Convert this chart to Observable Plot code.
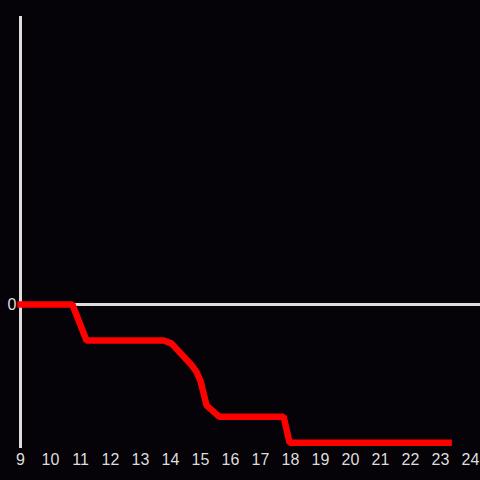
<!DOCTYPE html>
<html>
<head>
<meta charset="utf-8">
<script src="https://cdn.jsdelivr.net/npm/d3@7"></script>
<script src="https://cdn.jsdelivr.net/npm/@observablehq/plot@0.6"></script>
<style>
  html, body { margin: 0; padding: 0; background: #050307; }
  #chart { width: 480px; height: 480px; }
</style>
</head>
<body>
<div id="chart"></div>
<script>
const hours  = [9, 10.73, 11.2, 13.77, 14.03, 14.7, 14.87, 15.0, 15.2, 15.63, 17.77, 17.97, 23.27];
const values = [0, 0, -0.25, -0.25, -0.27, -0.42, -0.47, -0.53, -0.70, -0.78, -0.78, -0.96, -0.96];
const xTicks = [9, 10, 11, 12, 13, 14, 15, 16, 17, 18, 19, 20, 21, 22, 23, 24];
const yTicks = [0];

const data = hours.map((h, i) => ({h, v: values[i]}));

const chart = Plot.plot({
  width: 480,
  height: 480,
  marginLeft: 20,
  marginRight: 0,
  marginTop: 16,
  marginBottom: 32,
  style: {background: "#050307", color: "#dddddd", fontFamily: "'Liberation Sans', Arial, sans-serif", fontSize: "16px"},
  x: {domain: [9, 24], range: [20, 470]},
  y: {domain: [-1, 2]},
  marks: [
    Plot.axisX({ticks: xTicks, tickSize: 0, tickPadding: 5, tickFormat: d => String(d), label: null, fontSize: 16}),
    Plot.axisY({ticks: yTicks, tickSize: 0, tickPadding: 4, tickFormat: d => String(d), label: null, fontSize: 16}),
    Plot.ruleY(yTicks, {stroke: "#dddddd", strokeWidth: 3}),
    Plot.ruleX([9], {y1: -1, y2: 2, stroke: "#dddddd", strokeWidth: 3}),
    Plot.line(data, {x: "h", y: "v", stroke: "#ff0000", strokeWidth: 6.5, strokeLinecap: "square", strokeLinejoin: "miter"})
  ]
});
document.getElementById("chart").appendChild(chart);
</script>
</body>
</html>
